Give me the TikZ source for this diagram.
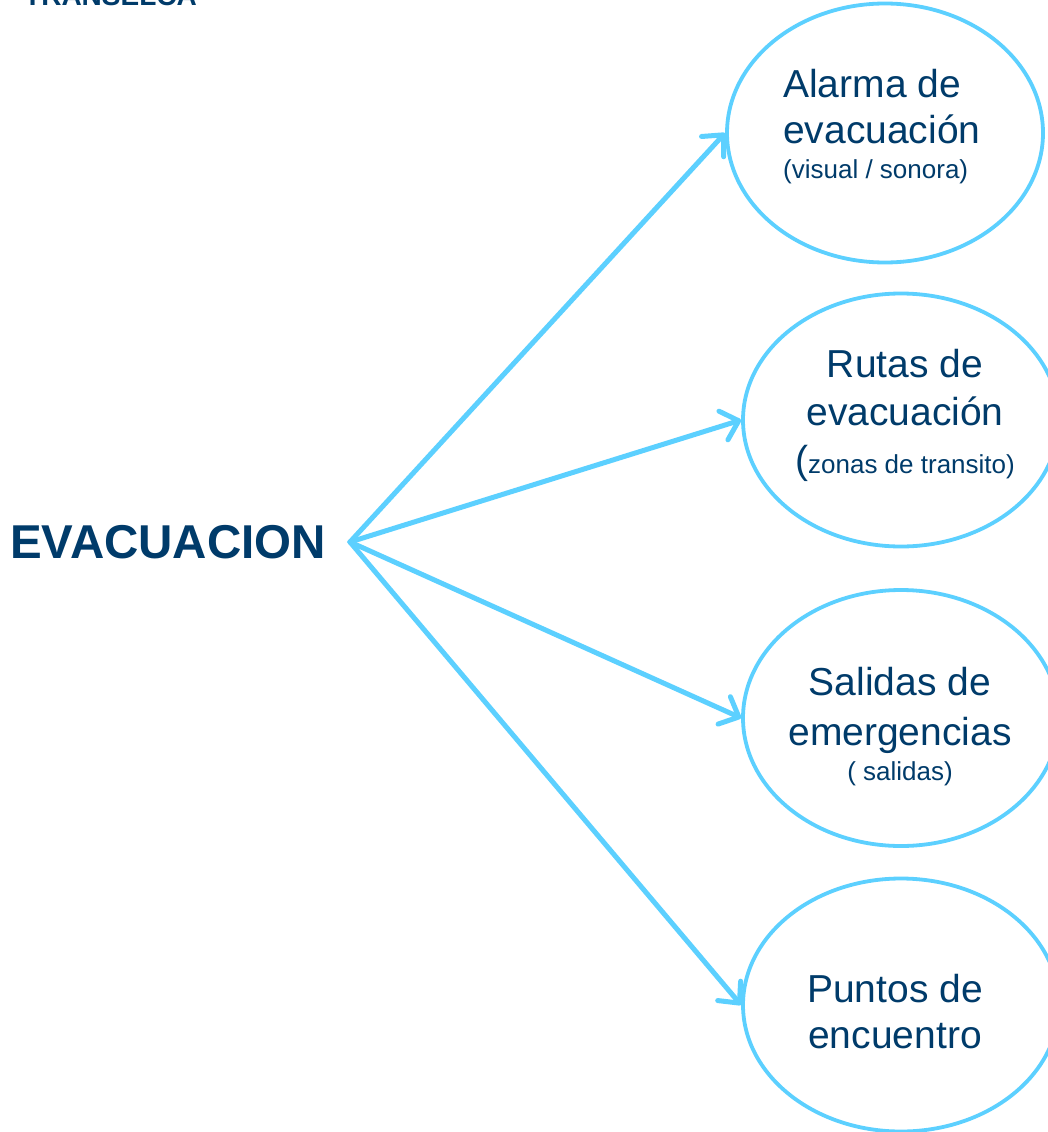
\documentclass[tikz,border=0pt]{standalone}
\usepackage{fontspec}
\setmainfont{Liberation Sans}
\usetikzlibrary{shapes.geometric,arrows.meta}
\definecolor{navy}{RGB}{0,59,106}
\definecolor{skyline}{RGB}{92,208,255}
\tikzset{
  bubble/.style={ellipse, draw=skyline, line width=3.8pt, inner sep=0pt, minimum width=316pt},
  conn/.style={draw=skyline, line width=5pt, line cap=round,
     -{Straight Barb[length=16pt,width=30pt,line cap=round,line join=round]}},
  big/.style={text=navy, inner sep=0pt, font=\fontsize{39}{46}\selectfont},
  small/.style={text=navy, inner sep=0pt, font=\fontsize{26}{30}\selectfont},
}
\begin{document}
\begin{tikzpicture}[x=1pt,y=-1pt]
\useasboundingbox (0,0) rectangle (1048,1132);
\clip (0,0) rectangle (1048,1132);
\fill[white] (0,0) rectangle (1048,1132);

\node[anchor=base west, text=navy, inner sep=0pt, font=\bfseries\fontsize{28}{32}\selectfont] (brand) at (24,6) {TRANSELCA};
\node[anchor=base west, text=navy, inner sep=0pt, font=\bfseries\fontsize{47.5}{54}\selectfont] (evac) at (10,558) {EVACUACION};
\coordinate (hub) at (350,542);

\node[bubble, minimum height=259pt] (e1) at (885,133) {};
\node[bubble, minimum height=253pt] (e2) at (901,420) {};
\node[bubble, minimum height=256pt] (e3) at (901,718) {};
\node[bubble, minimum height=253pt] (e4) at (901,1005) {};

\node[big, anchor=base west] (t11) at (783,97) {Alarma de};
\node[big, anchor=base west] (t12) at (783,143) {evacuación};
\node[small, anchor=base west] (t13) at (783,178) {(visual / sonora)};

\node[big, anchor=base] (t21) at (905,377) {Rutas de};
\node[big, anchor=base] (t22) at (905,425) {evacuación};
\node[anchor=base, inner sep=0pt, text=navy] (t23) at (905,473) {{\fontsize{39}{46}\selectfont(}{\fontsize{26}{30}\selectfont zonas de transito)}};

\node[big, anchor=base] (t31) at (900,695) {Salidas de};
\node[big, anchor=base] (t32) at (900,745) {emergencias};
\node[small, anchor=base] (t33) at (900,780) {( salidas)};

\node[big, anchor=base] (t41) at (895,1002) {Puntos de};
\node[big, anchor=base] (t42) at (895,1048) {encuentro};

\draw[conn] (hub) -- (e1.west);
\draw[conn] (hub) -- (e2.west);
\draw[conn] (hub) -- (e3.west);
\draw[conn] (hub) -- (e4.west);
\end{tikzpicture}
\end{document}
